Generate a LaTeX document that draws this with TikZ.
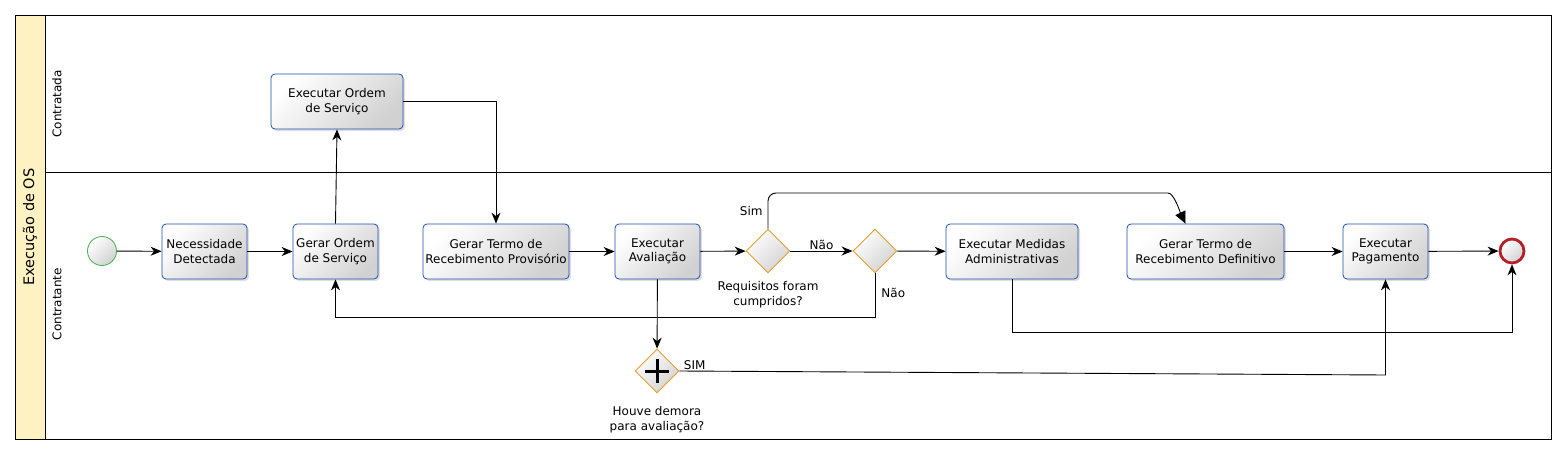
\documentclass[tikz,border=0pt]{standalone}
\usepackage{fontspec}
\setmainfont{DejaVu Sans}
\usetikzlibrary{arrows.meta,shapes.geometric,shadows,positioning}

\definecolor{taskblue}{RGB}{30,78,175}
\definecolor{gateorange}{RGB}{232,158,48}
\definecolor{startgreen}{RGB}{60,180,70}
\definecolor{endred}{RGB}{178,32,40}
\definecolor{poolyellow}{RGB}{255,242,194}

\tikzset{
  grad/.style={top color=white, bottom color=black!18, shading angle=45},
  task/.style={draw=taskblue, line width=0.8pt, rounded corners=4pt, grad,
    drop shadow={shadow xshift=2pt, shadow yshift=-2pt, opacity=0.25},
    minimum width=85pt, minimum height=55pt, align=center, inner sep=1pt},
  gate/.style={diamond, draw=gateorange, line width=0.9pt, grad,
    minimum width=44pt, minimum height=44pt, inner sep=0pt},
  startev/.style={circle, draw=startgreen, line width=0.8pt, grad, minimum size=29pt, inner sep=0pt},
  endev/.style={circle, draw=endred, line width=2.8pt, grad, minimum size=24pt, inner sep=0pt},
  flow/.style={line width=0.9pt, -{Stealth[length=11pt,width=9pt,inset=3.5pt]}},
  bigflow/.style={line width=0.9pt, -{Triangle[length=12pt,width=11pt]}},
  lbl/.style={align=center, inner sep=1pt},
  lanename/.style={rotate=90, inner sep=0pt}
}

\begin{document}
\begin{tikzpicture}[x=1pt, y=-1pt, font=\fontsize{12}{14.3}\selectfont]
  \useasboundingbox (0,0) rectangle (1567,455);

  \fill[poolyellow] (15,15) rectangle (45,439);
  \draw[line width=0.9pt] (15,15) rectangle (1551,439);
  \draw[line width=0.9pt] (45,15) -- (45,439);
  \draw[line width=0.9pt] (45,172) -- (1551,172);
  \node[lanename, font=\fontsize{14.5}{17}\selectfont] (pool) at (30,227) {Execução de OS};
  \node[lanename] (contratada) at (57,104) {Contratada};
  \node[lanename] (contratante) at (57,304) {Contratante};

  \node[startev] (start) at (102,251) {};
  \node[task] (nec) at (204.5,251.5) {Necessidade\\Detectada};
  \node[task] (gos) at (335.5,251.5) {Gerar Ordem\\de Serviço};
  \node[task, minimum width=132pt] (eos) at (337,101.5) {Executar Ordem\\de Serviço};
  \node[task, minimum width=146pt] (gtp) at (496,251.5) {Gerar Termo de\\Recebimento Provisório};
  \node[task] (aval) at (657.5,251.5) {Executar\\Avaliação};
  \node[gate] (g1) at (768,251) {};
  \node[gate] (g2) at (875,251) {};
  \node[task, minimum width=132pt] (med) at (1012,251.5) {Executar Medidas\\Administrativas};
  \node[task, minimum width=157pt] (gtd) at (1205.5,251.5) {Gerar Termo de\\Recebimento Definitivo};
  \node[task] (pag) at (1385.5,251.5) {Executar\\Pagamento};
  \node[endev] (end) at (1512,251) {};
  \node[gate] (par) at (657,371) {};
  \draw[line width=3pt] ([xshift=-12pt]par.center) -- ([xshift=12pt]par.center);
  \draw[line width=3pt] ([yshift=-12pt]par.center) -- ([yshift=12pt]par.center);

  \node[lbl, below=7pt of g1] (reqlbl) {Requisitos foram\\cumpridos?};
  \node[lbl, below=12pt of par] (demlbl) {Houve demora\\para avaliação?};

  \coordinate (simtop) at (1160,193);

  \draw[flow] (start) -- (nec);
  \draw[flow] (nec) -- (gos);
  \draw[flow] (gos.north) -- (eos.south);
  \draw[flow] (eos.east) -| (gtp.north);
  \draw[flow] (gtp) -- (aval);
  \draw[flow] (aval) -- (g1);
  \draw[flow] (g1) -- node[lbl, above] {Não} (g2);
  \draw[bigflow, rounded corners=8pt] (g1.north) -- node[lbl, left, xshift=-4pt] {Sim} (g1.north |- simtop) -- (simtop)
    .. controls (1174,193) and (1180,212) .. ([xshift=-20pt]gtd.north);
  \draw[flow] (g2) -- (med);
  \draw[flow] (g2.south) -- node[lbl, right, xshift=5pt, pos=0.45] {Não} ++(0,44) -| (gos.south);
  \draw[flow] (aval) -- (par);
  \draw[flow] (par.east) -- node[lbl, above right, pos=0, xshift=3pt] {SIM} (pag.south |- 0,375) -- (pag.south);
  \draw[flow] (med.south) -- ++(0,53) -| (end.south);
  \draw[flow] (gtd) -- (pag);
  \draw[flow] (pag) -- (end);
\end{tikzpicture}
\end{document}
